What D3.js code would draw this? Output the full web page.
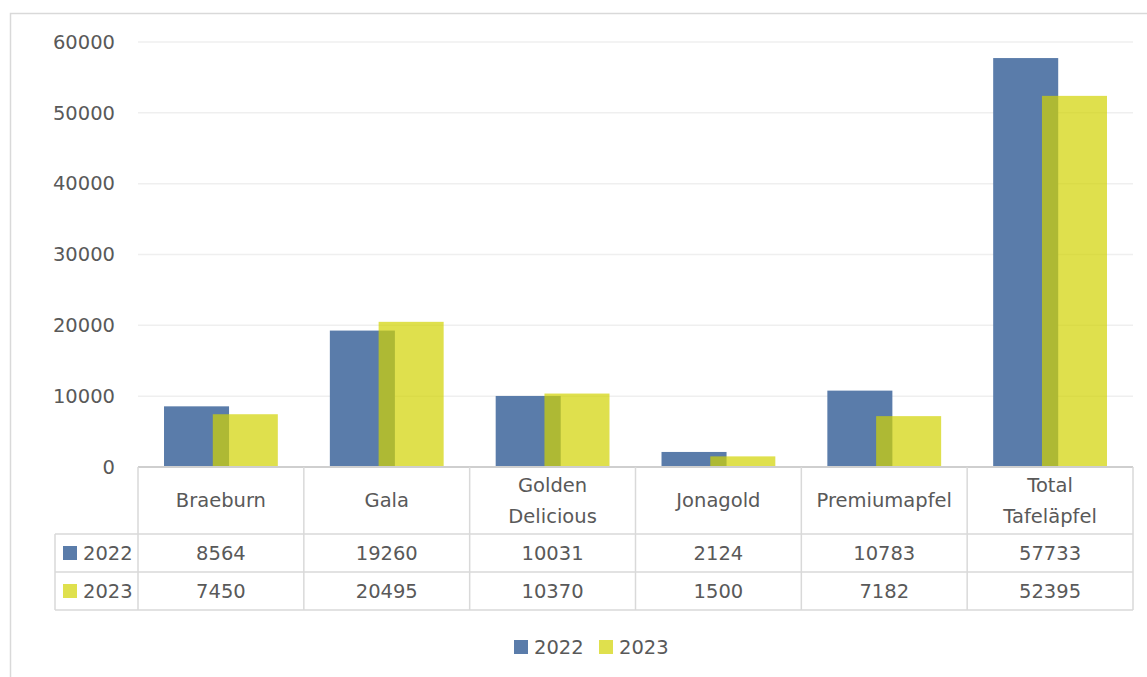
<!DOCTYPE html>
<html>
<head>
<meta charset="utf-8">
<script src="https://cdn.jsdelivr.net/npm/d3@7"></script>
<style>
  body { margin: 0; background: #fff; }
  svg { display: block; font-family: "DejaVu Sans", sans-serif; }
</style>
</head>
<body>
<svg class="chart" width="1147" height="677"></svg>
<script>
// apple harvest data
var categories = ["Braeburn", "Gala", "Golden Delicious", "Jonagold", "Premiumapfel", "Total Tafeläpfel"];
var headerLines = [["Braeburn"], ["Gala"], ["Golden", "Delicious"], ["Jonagold"], ["Premiumapfel"], ["Total", "Tafeläpfel"]];
var years = ["2022", "2023"];
var values2022 = [8564, 19260, 10031, 2124, 10783, 57733];
var values2023 = [7450, 20495, 10370, 1500, 7182, 52395];
var yTicks = [0, 10000, 20000, 30000, 40000, 50000, 60000];

var colors = {"2022": "#5a7caa", "2023": "#d1d302"};
var series = [
  {name: "2022", values: values2022},
  {name: "2023", values: values2023}
];

var svg = d3.select("svg.chart");
var textColor = "#595959";
var lineColor = "#d9d9d9";

// chart border (runs off the right and bottom)
svg.append("rect")
  .attr("x", 10.5).attr("y", 13.5)
  .attr("width", 1160).attr("height", 700)
  .attr("fill", "none").attr("stroke", lineColor).attr("stroke-width", 1.5);

var plotLeft = 138, plotRight = 1133, plotTop = 42, zero = 467;

var x = d3.scaleBand().domain(categories).range([plotLeft, plotRight]);
var y = d3.scaleLinear().domain([0, 60000]).range([zero, plotTop]);

// gridlines
svg.append("g").selectAll("line")
  .data(yTicks.slice(1))
  .enter().append("line")
  .attr("x1", plotLeft).attr("x2", plotRight)
  .attr("y1", d => y(d)).attr("y2", d => y(d))
  .attr("stroke", "#efefef").attr("stroke-width", 1.5);

// y axis labels
svg.append("g").selectAll("text")
  .data(yTicks)
  .enter().append("text")
  .attr("x", 115)
  .attr("y", d => y(d))
  .attr("dy", "0.35em")
  .attr("text-anchor", "end")
  .style("font-size", "19.5px")
  .style("fill", textColor)
  .text(d => d);

// bars: gap width 80%, overlap 25% like excel
var gap = 0.8, overlap = 0.25;
var bw = x.bandwidth() / (2 - overlap + gap);
series.forEach(function(s, si) {
  svg.append("g").selectAll("rect")
    .data(s.values)
    .enter().append("rect")
    .attr("x", (d, i) => x(categories[i]) + bw * gap / 2 + si * bw * (1 - overlap))
    .attr("y", d => y(d))
    .attr("width", bw)
    .attr("height", d => zero - y(d))
    .attr("fill", colors[s.name])
    .attr("fill-opacity", si == 1 ? 0.7 : 1);
});

// data table
var headerBottom = 534, rowH = 38;
var tbl = svg.append("g")
  .attr("stroke", lineColor).attr("stroke-width", 1.5);

// horizontal lines
tbl.append("line").attr("x1", plotLeft).attr("x2", plotRight)
  .attr("y1", zero).attr("y2", zero).attr("stroke", "#cfcfcf").attr("stroke-width", 2);
[0, 1, 2].forEach(function(r) {
  tbl.append("line")
    .attr("x1", 55).attr("x2", plotRight)
    .attr("y1", headerBottom + r * rowH).attr("y2", headerBottom + r * rowH);
});
// vertical lines
categories.forEach(function(c) {
  tbl.append("line")
    .attr("x1", x(c)).attr("x2", x(c))
    .attr("y1", zero).attr("y2", headerBottom + 2 * rowH);
});
tbl.append("line").attr("x1", plotRight).attr("x2", plotRight)
  .attr("y1", zero).attr("y2", headerBottom + 2 * rowH);
tbl.append("line").attr("x1", 55).attr("x2", 55)
  .attr("y1", headerBottom).attr("y2", headerBottom + 2 * rowH);

// header labels
var headerMid = (zero + headerBottom) / 2;
var hdr = svg.append("g").selectAll("text")
  .data(headerLines)
  .enter().append("text")
  .attr("x", (d, i) => x(categories[i]) + x.bandwidth() / 2)
  .attr("y", headerMid)
  .attr("text-anchor", "middle")
  .style("font-size", "19.5px")
  .style("fill", textColor);
hdr.selectAll("tspan")
  .data(d => d.map(t => ({t: t, n: d.length})))
  .enter().append("tspan")
  .attr("x", function() { return d3.select(this.parentNode).attr("x"); })
  .attr("y", (d, j) => headerMid + (j - (d.n - 1) / 2) * 31)
  .attr("dy", "0.35em")
  .text(d => d.t);

// value rows
series.forEach(function(s, si) {
  var cy = headerBottom + si * rowH + rowH / 2;
  svg.append("rect")
    .attr("x", 63).attr("y", cy - 7)
    .attr("width", 14).attr("height", 14)
    .attr("fill", colors[s.name])
    .attr("fill-opacity", si == 1 ? 0.7 : 1);
  svg.append("text")
    .attr("x", 83).attr("y", cy).attr("dy", "0.35em")
    .style("font-size", "19.5px").style("fill", textColor)
    .text(s.name);
  svg.append("g").selectAll("text")
    .data(s.values)
    .enter().append("text")
    .attr("x", (d, i) => x(categories[i]) + x.bandwidth() / 2)
    .attr("y", cy).attr("dy", "0.35em")
    .attr("text-anchor", "middle")
    .style("font-size", "19.5px").style("fill", textColor)
    .text(d => d);
});

// legend at the bottom
var legend = svg.append("g").selectAll("g")
  .data(years)
  .enter().append("g")
  .attr("transform", (d, i) => "translate(" + (514 + i * 85) + ",647)");
legend.append("rect")
  .attr("x", 0).attr("y", -7)
  .attr("width", 14).attr("height", 14)
  .attr("fill", d => colors[d])
  .attr("fill-opacity", (d, i) => i == 1 ? 0.7 : 1);
legend.append("text")
  .attr("x", 20).attr("dy", "0.35em")
  .style("font-size", "19.5px").style("fill", textColor)
  .text(d => d);
</script>
</body>
</html>
